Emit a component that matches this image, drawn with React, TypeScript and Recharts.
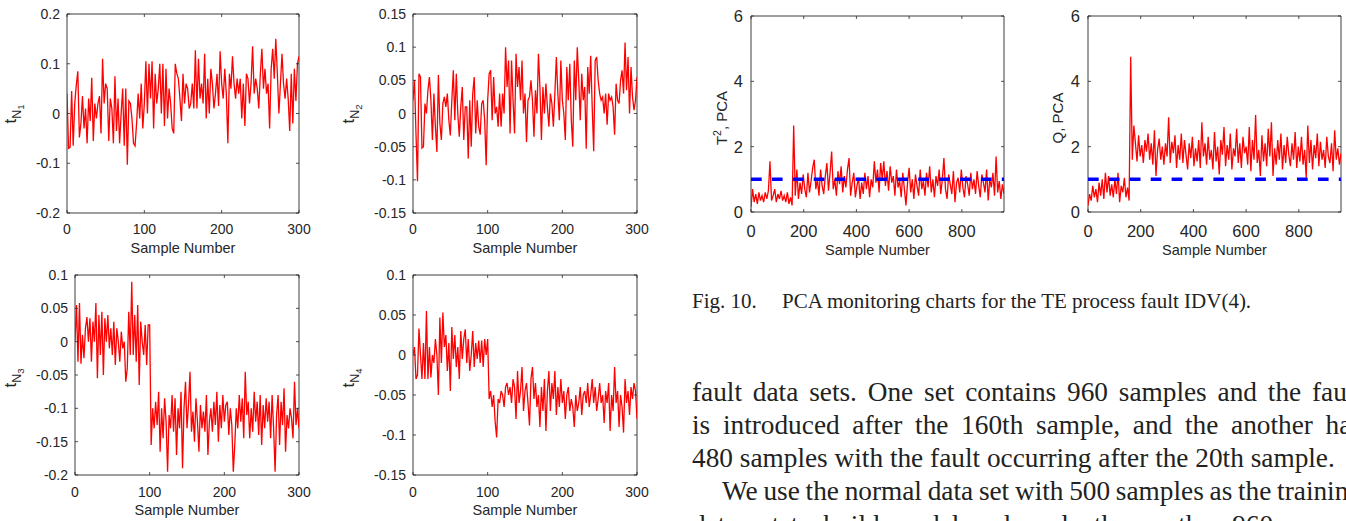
import React from "react";
import { LineChart, Line, XAxis, YAxis, ReferenceArea } from "recharts";

// score plots: every 2nd sample of 300
const tStep = 2;
const tXTicks = [0, 100, 200, 300];

const tN1 = [
  0.04, -0.07, -0.068, 0.045, -0.065, 0.02, 0.057, 0.085, -0.048, -0.02,
  0.035, -0.03, 0.01, -0.06, 0.03, -0.015, 0.072, -0.055, 0.02, -0.01,
  0.02, 0.035, -0.04, 0.11, 0.02, 0.06, 0.05, -0.055, 0.03, 0.01,
  -0.06, 0.075, -0.035, 0.03, -0.06, 0.0, 0.05, -0.065, 0.05, -0.103,
  0.025, 0.02, -0.01, -0.06, -0.065, -0.02, 0.04, -0.01, 0.06, -0.03,
  0.02, 0.105, 0.0, 0.1, 0.03, 0.105, -0.03, 0.08, 0.02, 0.05,
  0.1, 0.0, 0.1, -0.025, 0.09, -0.01, 0.05, 0.02, -0.03, -0.04,
  0.1, 0.08, 0.07, 0.03, -0.015, 0.08, 0.02, 0.06, 0.05, 0.01,
  0.02, 0.06, 0.01, 0.127, 0.01, 0.11, 0.03, 0.06, 0.02, 0.12,
  -0.01, 0.07, 0.0, 0.09, 0.06, 0.01, 0.04, 0.08, 0.015, 0.125,
  0.06, 0.03, 0.09, 0.04, -0.06, 0.08, 0.05, 0.115, 0.06, 0.03,
  0.07, 0.04, 0.07, -0.01, 0.06, -0.025, 0.08, 0.07, 0.02, 0.06,
  0.135, 0.04, 0.07, 0.05, 0.01, 0.08, 0.13, 0.05, 0.09, 0.04,
  0.06, -0.03, 0.09, 0.13, 0.07, 0.15, 0.08, 0.0, 0.06, 0.12,
  0.06, 0.03, 0.07, 0.03, -0.035, 0.08, -0.02, 0.09, 0.025, 0.1,
  0.115,
];

const tN2 = [
  0.02, 0.05, -0.03, -0.102, 0.06, 0.055, -0.052, -0.05, 0.015, 0.0,
  0.035, 0.055, 0.02, -0.04, 0.03, -0.02, -0.058, 0.058, -0.015, -0.04,
  0.015, 0.025, 0.01, 0.03, -0.01, -0.033, 0.02, 0.065, -0.01, 0.06,
  0.0, -0.035, 0.01, 0.04, -0.04, 0.01, 0.01, -0.068, 0.02, -0.05,
  0.03, 0.055, -0.03, 0.02, -0.02, -0.032, 0.015, 0.02, -0.01, -0.078,
  0.02, 0.06, 0.065, -0.01, 0.055, 0.0, 0.01, -0.02, 0.03, -0.02,
  0.03, 0.0, 0.1, 0.04, 0.08, -0.03, 0.08, 0.02, -0.03, 0.09,
  0.04, 0.07, 0.02, 0.08, 0.0, 0.03, -0.043, 0.02, 0.025, 0.05,
  0.02, -0.035, 0.035, 0.0, 0.09, 0.04, -0.04, 0.04, 0.0, 0.045,
  0.01, -0.02, 0.03, 0.015, -0.02, 0.03, 0.085, 0.03, -0.01, 0.08,
  0.02, 0.0, -0.04, 0.07, 0.02, 0.075, -0.01, -0.05, 0.08, 0.02,
  0.1, 0.05, -0.01, 0.06, 0.02, 0.04, -0.053, 0.07, 0.03, 0.087,
  0.01, -0.057, 0.08, 0.085, 0.05, 0.03, 0.02, 0.025, 0.0, 0.03,
  -0.017, 0.03, 0.02, 0.025, 0.01, -0.032, 0.045, 0.02, 0.015, 0.05,
  0.065, 0.03, 0.107, 0.035, 0.085, 0.0, 0.07, 0.025, 0.005, 0.02,
  0.055,
];

const tN3 = [
  0.0, 0.055, -0.03, 0.058, -0.033, 0.01, -0.025, 0.02, 0.037, 0.0,
  0.035, -0.03, 0.03, 0.0, 0.058, -0.055, 0.04, -0.02, 0.045, -0.05,
  0.035, 0.0, 0.04, -0.01, 0.02, -0.02, 0.03, -0.035, 0.02, 0.0,
  -0.03, 0.015, -0.01, 0.0, -0.06, -0.04, 0.045, -0.02, 0.09, -0.02,
  0.04, -0.03, 0.055, -0.065, 0.03, 0.0, -0.02, 0.025, -0.035, 0.025,
  0.025, -0.155, -0.1, -0.13, -0.09, -0.125, -0.075, -0.165, -0.1, -0.145,
  -0.085, -0.12, -0.195, -0.11, -0.13, -0.08, -0.135, -0.085, -0.17, -0.1,
  -0.13, -0.075, -0.19, -0.1, -0.06, -0.13, -0.095, -0.045, -0.135, -0.105,
  -0.15, -0.085, -0.12, -0.165, -0.095, -0.13, -0.105, -0.135, -0.08, -0.17,
  -0.12, -0.1, -0.135, -0.09, -0.125, -0.075, -0.15, -0.095, -0.13, -0.08,
  -0.12, -0.095, -0.09, -0.14, -0.1, -0.125, -0.195, -0.155, -0.1, -0.13,
  -0.08, -0.12, -0.085, -0.145, -0.045, -0.11, -0.09, -0.145, -0.1, -0.135,
  -0.075, -0.12, -0.09, -0.14, -0.08, -0.155, -0.095, -0.13, -0.085, -0.12,
  -0.09, -0.145, -0.08, -0.13, -0.195, -0.11, -0.08, -0.155, -0.09, -0.125,
  -0.07, -0.165, -0.11, -0.13, -0.1, -0.115, -0.145, -0.06, -0.125, -0.1,
  -0.13,
];

const tN4 = [
  0.0, 0.01, -0.03, -0.025, 0.033, 0.0, -0.03, 0.015, -0.03, 0.055,
  -0.03, 0.01, -0.028, 0.0, -0.01, 0.02, 0.0, -0.05, 0.047, -0.01,
  0.053, 0.01, 0.025, -0.02, 0.015, -0.045, 0.035, -0.005, 0.025, -0.015,
  0.01, -0.03, 0.03, -0.005, 0.02, 0.032, -0.01, 0.02, -0.02, 0.0,
  0.03, -0.015, 0.015, -0.005, 0.018, -0.01, 0.018, -0.015, 0.02, 0.0,
  0.02, -0.055, -0.045, -0.065, -0.05, -0.083, -0.103, -0.055, -0.06, -0.045,
  -0.05, -0.065, -0.04, -0.035, -0.05, -0.04, -0.06, -0.03, -0.04, -0.08,
  -0.02, -0.06, -0.045, -0.015, -0.07, -0.045, -0.035, -0.06, -0.088, -0.03,
  -0.015, -0.055, -0.035, -0.065, -0.05, -0.09, -0.04, -0.07, -0.03, -0.095,
  -0.045, -0.02, -0.07, -0.035, -0.055, -0.02, -0.075, -0.04, -0.065, -0.03,
  -0.06, -0.045, -0.08, -0.05, -0.04, -0.07, -0.055, -0.065, -0.09, -0.05,
  -0.07, -0.06, -0.04, -0.075, -0.05, -0.045, -0.06, -0.035, -0.065, -0.05,
  -0.03, -0.06, -0.04, -0.07, -0.055, -0.035, -0.06, -0.05, -0.085, -0.045,
  -0.06, -0.035, -0.095, -0.05, -0.07, -0.015, -0.06, -0.045, -0.09, -0.05,
  -0.065, -0.097, -0.03, -0.06, -0.045, -0.075, -0.04, -0.055, -0.035, -0.045,
  -0.08,
];

// PCA monitoring statistics: every 6th sample of 960
const pcaStep = 6;
const pcaXTicks = [0, 200, 400, 600, 800];
const pcaYTicks = [0, 2, 4, 6];
const t2Limit = 1;
const qLimit = 1;

const t2Pca = [
  0.15, 0.7, 0.3, 0.55, 0.25, 0.6, 0.35, 0.5, 0.3, 0.6,
  0.4, 0.65, 1.55, 0.35, 0.5, 0.7, 0.3, 0.55, 0.4, 0.65,
  0.35, 0.5, 0.3, 0.6, 0.25, 0.45, 0.2, 2.65, 0.5, 1.3,
  0.4, 0.9, 0.55, 1.15, 0.7, 0.45, 1.2, 0.6, 0.95, 1.35,
  1.6, 0.7, 1.0, 0.5, 1.3, 0.8, 0.55, 1.1, 1.5, 0.65,
  1.2, 1.85, 0.7, 1.0, 0.5, 1.25, 0.85, 1.4, 0.6, 1.1,
  0.75, 1.3, 1.65, 0.5, 0.9, 1.2, 0.45, 0.8, 1.05, 0.4,
  0.9, 0.55, 1.2, 0.7, 1.1, 0.45, 1.0, 0.75, 1.55, 0.9,
  1.3, 0.6, 1.5, 1.0, 1.55, 0.8, 1.25, 0.65, 1.4, 0.9,
  1.1, 0.5, 1.3, 0.75, 0.95, 0.45, 1.2, 0.7, 0.2, 0.9,
  1.35, 0.6, 1.0, 0.4, 1.15, 0.8, 0.5, 1.3, 0.7, 0.95,
  0.5, 1.2, 0.75, 1.4, 0.6, 1.0, 0.45, 1.1, 0.8, 1.3,
  0.55, 1.0, 1.65, 0.7, 0.4, 1.15, 0.85, 0.55, 1.25, 0.3,
  0.9, 1.05, 0.6, 1.3, 0.75, 0.45, 1.1, 0.85, 0.5, 1.2,
  0.7, 1.0, 0.55, 1.25, 0.8, 0.45, 1.15, 0.9, 0.6, 1.3,
  0.35, 1.0, 0.75, 1.2, 0.5, 1.7, 0.6, 0.95, 0.4, 0.85,
  0.55,
];

const qPca = [
  0.2, 0.55, 0.35, 0.8, 0.45, 0.7, 0.3, 0.9, 0.5, 1.0,
  0.4, 1.2, 0.6, 1.1, 0.5, 0.85, 0.45, 1.0, 0.55, 1.2,
  0.3, 0.8, 0.6, 1.05, 0.45, 0.75, 0.35, 4.75, 1.6, 2.65,
  2.1, 1.55, 2.35, 1.7, 2.05, 1.5, 2.2, 1.85, 2.4, 1.6,
  2.1, 1.45, 2.5, 1.1, 1.9, 2.25, 1.6, 2.0, 1.45, 2.1,
  1.7, 2.9, 1.5, 2.15, 1.8, 2.35, 1.35, 2.05, 1.6, 2.4,
  1.5, 2.2, 1.75, 1.3, 2.1, 1.65, 2.3, 1.4, 1.95, 1.55,
  2.2, 1.35, 2.75, 1.7, 2.1, 1.45, 2.3, 1.6, 1.9, 1.3,
  2.45, 1.55, 2.0, 1.15, 2.2, 1.75, 2.6, 1.4, 2.05, 1.6,
  2.4, 1.3, 1.95, 1.7, 2.55, 1.5, 2.1, 1.35, 2.3, 1.8,
  2.0, 1.45, 2.6, 1.25, 2.2, 1.6, 2.97, 1.5, 1.9, 1.1,
  2.35, 1.55, 2.1, 1.4, 2.55, 1.7, 2.75, 1.1, 1.95, 1.45,
  2.2, 1.6, 2.4, 1.3, 2.05, 1.5, 2.3, 1.75, 1.4, 2.1,
  1.6, 2.45, 1.35, 2.0, 1.55, 2.3, 1.45, 1.9, 1.05, 2.65,
  1.5, 2.2, 1.3, 2.05, 1.65, 2.4, 1.4, 2.15, 1.6, 1.9,
  1.35, 2.3, 1.7, 1.5, 2.1, 1.25, 2.5, 1.6, 1.95, 1.45,
  1.8,
];

const ink = "#262626";
const sans = "'Liberation Sans', Arial, Helvetica, sans-serif";
const serif = "'Liberation Serif', 'Times New Roman', serif";

const Y_AXIS_W = 40;
const X_AXIS_H = 30;

type Box = { left: number; top: number; width: number; height: number };

interface PanelProps {
  box: Box;
  plot: Box;
  values: number[];
  step: number;
  limit?: number;
  xMax: number;
  xTicks: number[];
  yTicks: number[];
  tickFont: number;
  xTickGap: number;
  yTickGap: number;
  titleY: number;
  yLabel: React.ReactNode;
  yLabelX: number;
  yLabelY: number;
}

function Panel(p: PanelProps) {
  const rows = p.values.map((v, i) => ({ s: i * p.step, v, lim: p.limit }));
  const margin = {
    top: p.plot.top - p.box.top,
    left: p.plot.left - p.box.left - Y_AXIS_W,
    right: p.box.left + p.box.width - p.plot.left - p.plot.width,
    bottom: p.box.top + p.box.height - p.plot.top - p.plot.height - X_AXIS_H,
  };
  const yMin = p.yTicks[0];
  const yMax = p.yTicks[p.yTicks.length - 1];

  const xTick = (props: any) => {
    const { x, y, payload } = props;
    const axisY = y - p.xTickGap;
    return (
      <g>
        <line x1={x} x2={x} y1={axisY} y2={axisY - 3} stroke={ink} strokeWidth={0.8} />
        <line x1={x} x2={x} y1={axisY - p.plot.height} y2={axisY - p.plot.height + 3} stroke={ink} strokeWidth={0.8} />
        <text x={x} y={y} dy="0.36em" textAnchor="middle" fill={ink} fontSize={p.tickFont} fontFamily={sans}>
          {payload.value}
        </text>
      </g>
    );
  };

  const yTick = (props: any) => {
    const { x, y, payload } = props;
    const axisX = x + p.yTickGap;
    return (
      <g>
        <line x1={axisX} x2={axisX + 3} y1={y} y2={y} stroke={ink} strokeWidth={0.8} />
        <line x1={axisX + p.plot.width} x2={axisX + p.plot.width - 3} y1={y} y2={y} stroke={ink} strokeWidth={0.8} />
        <text x={x} y={y} dy="0.36em" textAnchor="end" fill={ink} fontSize={p.tickFont} fontFamily={sans}>
          {payload.value}
        </text>
      </g>
    );
  };

  return (
    <div style={{ position: "absolute", left: p.box.left, top: p.box.top, width: p.box.width, height: p.box.height }}>
      <LineChart width={p.box.width} height={p.box.height} data={rows} margin={margin}>
        <XAxis
          dataKey="s"
          type="number"
          domain={[0, p.xMax]}
          ticks={p.xTicks}
          interval={0}
          allowDataOverflow
          height={X_AXIS_H}
          axisLine={false}
          tickLine={false}
          tickSize={0}
          tickMargin={p.xTickGap}
          tick={xTick}
        />
        <YAxis
          type="number"
          domain={[yMin, yMax]}
          ticks={p.yTicks}
          interval={0}
          allowDataOverflow
          width={Y_AXIS_W}
          axisLine={false}
          tickLine={false}
          tickSize={0}
          tickMargin={p.yTickGap}
          tick={yTick}
        />
        <ReferenceArea
          x1={0}
          x2={p.xMax}
          y1={yMin}
          y2={yMax}
          fill="none"
          stroke={ink}
          strokeWidth={0.9}
          ifOverflow="visible"
        />
        <Line
          dataKey="v"
          stroke="#ff0000"
          strokeWidth={1.3}
          dot={false}
          isAnimationActive={false}
        />
        {p.limit !== undefined && (
          <Line
            dataKey="lim"
            stroke="#0000ff"
            strokeWidth={3.5}
            strokeDasharray="10.7 10.2"
            dot={false}
            isAnimationActive={false}
          />
        )}
      </LineChart>
      <svg
        width={p.box.width}
        height={p.box.height}
        style={{ position: "absolute", left: 0, top: 0, pointerEvents: "none" }}
      >
        <text
          x={p.plot.left + p.plot.width / 2 - p.box.left}
          y={p.titleY - p.box.top}
          dy="0.36em"
          textAnchor="middle"
          fill={ink}
          fontSize={14.5}
          fontFamily={sans}
        >
          Sample Number
        </text>
        <g transform={`translate(${p.yLabelX - p.box.left},${p.yLabelY - p.box.top}) rotate(-90)`}>
          {p.yLabel}
        </g>
      </svg>
    </div>
  );
}

const scoreLabel = (k: number) => (
  <text textAnchor="middle" fill={ink} fontSize={17} fontFamily={sans}>
    t
    <tspan fontSize={12.5} dy={4.5}>N</tspan>
    <tspan fontSize={9.5} dy={3}>{k}</tspan>
  </text>
);

const t2Label = (
  <text textAnchor="middle" fill={ink} fontSize={15} fontFamily={sans}>
    T<tspan fontSize={10.5} dy={-6}>2</tspan>
    <tspan dy={6}>, PCA</tspan>
  </text>
);

const qLabel = (
  <text textAnchor="middle" fill={ink} fontSize={15} fontFamily={sans}>
    Q, PCA
  </text>
);

const bodyLines = [
  { text: "fault data sets. One set contains 960 samples and the fault", indent: 0, justify: true, squeeze: 0 },
  { text: "is introduced after the 160th sample, and the another has", indent: 0, justify: true, squeeze: 0 },
  { text: "480 samples with the fault occurring after the 20th sample.", indent: 0, justify: false, squeeze: 0 },
  { text: "We use the normal data set with 500 samples as the training", indent: 30, justify: true, squeeze: -1.6 },
  { text: "data set to build model and apply the another 960 normal", indent: 0, justify: true, squeeze: 0 },
];

export default function App() {
  return (
    <div
      style={{
        position: "absolute",
        left: 0,
        top: 0,
        width: 1346,
        height: 521,
        overflow: "hidden",
        background: "#ffffff",
      }}
    >
      <Panel
        box={{ left: 0, top: 0, width: 330, height: 262 }}
        plot={{ left: 67, top: 14, width: 232, height: 199 }}
        values={tN1}
        step={tStep}
        xMax={300}
        xTicks={tXTicks}
        yTicks={[-0.2, -0.1, 0, 0.1, 0.2]}
        tickFont={14}
        xTickGap={16}
        yTickGap={7}
        titleY={248}
        yLabel={scoreLabel(1)}
        yLabelX={16}
        yLabelY={114}
      />
      <Panel
        box={{ left: 340, top: 0, width: 320, height: 262 }}
        plot={{ left: 413, top: 14, width: 224, height: 199 }}
        values={tN2}
        step={tStep}
        xMax={300}
        xTicks={tXTicks}
        yTicks={[-0.15, -0.1, -0.05, 0, 0.05, 0.1, 0.15]}
        tickFont={14}
        xTickGap={16}
        yTickGap={7}
        titleY={248}
        yLabel={scoreLabel(2)}
        yLabelX={354}
        yLabelY={114}
      />
      <Panel
        box={{ left: 0, top: 262, width: 330, height: 259 }}
        plot={{ left: 75, top: 275, width: 224, height: 200 }}
        values={tN3}
        step={tStep}
        xMax={300}
        xTicks={tXTicks}
        yTicks={[-0.2, -0.15, -0.1, -0.05, 0, 0.05, 0.1]}
        tickFont={14}
        xTickGap={16.5}
        yTickGap={7}
        titleY={510}
        yLabel={scoreLabel(3)}
        yLabelX={16}
        yLabelY={378}
      />
      <Panel
        box={{ left: 340, top: 262, width: 320, height: 259 }}
        plot={{ left: 413, top: 275, width: 224, height: 200 }}
        values={tN4}
        step={tStep}
        xMax={300}
        xTicks={tXTicks}
        yTicks={[-0.15, -0.1, -0.05, 0, 0.05, 0.1]}
        tickFont={14}
        xTickGap={16.5}
        yTickGap={7}
        titleY={510}
        yLabel={scoreLabel(4)}
        yLabelX={354}
        yLabelY={378}
      />
      <Panel
        box={{ left: 690, top: 0, width: 330, height: 265 }}
        plot={{ left: 751, top: 16, width: 253, height: 196 }}
        values={t2Pca}
        step={pcaStep}
        limit={t2Limit}
        xMax={960}
        xTicks={pcaXTicks}
        yTicks={pcaYTicks}
        tickFont={16.5}
        xTickGap={19}
        yTickGap={8}
        titleY={250}
        yLabel={t2Label}
        yLabelX={727}
        yLabelY={118}
      />
      <Panel
        box={{ left: 1020, top: 0, width: 326, height: 265 }}
        plot={{ left: 1088, top: 16, width: 253, height: 196 }}
        values={qPca}
        step={pcaStep}
        limit={qLimit}
        xMax={960}
        xTicks={pcaXTicks}
        yTicks={pcaYTicks}
        tickFont={16.5}
        xTickGap={19}
        yTickGap={8}
        titleY={250}
        yLabel={qLabel}
        yLabelX={1063}
        yLabelY={118}
      />

      <div
        style={{
          position: "absolute",
          left: 692,
          top: 288.5,
          fontFamily: serif,
          fontSize: 21,
          lineHeight: "25px",
          color: "#222",
          whiteSpace: "nowrap",
        }}
      >
        <span style={{ marginRight: 20 }}>Fig. 10.</span> PCA monitoring charts for the TE process fault IDV(4).
      </div>

      <div style={{ position: "absolute", left: 692, top: 375.5, width: 670, fontFamily: serif, fontSize: 27.3, color: "#222" }}>
        {bodyLines.map((ln, i) => (
          <div
            key={i}
            style={{
              height: 33.3,
              lineHeight: "33.3px",
              overflow: "hidden",
              paddingLeft: ln.indent,
              wordSpacing: ln.squeeze,
              textAlign: ln.justify ? "justify" : "left",
              textAlignLast: ln.justify ? "justify" : "left",
            }}
          >
            {ln.text}
          </div>
        ))}
      </div>
    </div>
  );
}
